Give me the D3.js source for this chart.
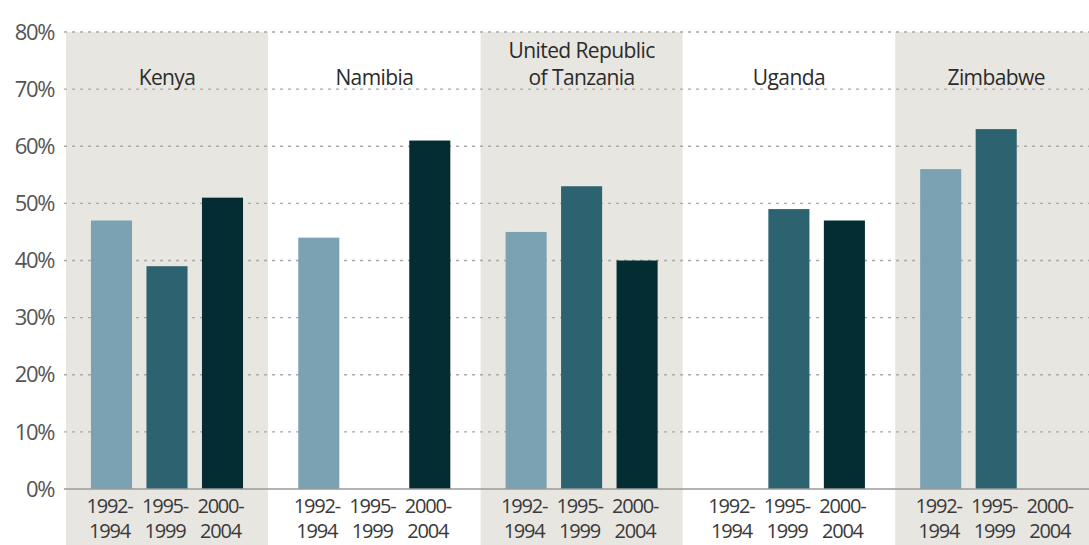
<!DOCTYPE html>
<html>
<head>
<meta charset="utf-8">
<script src="https://cdn.jsdelivr.net/npm/d3@7"></script>
<style>
  body { margin: 0; background: #fff; }
  svg { display: block; font-family: "Open Sans", sans-serif; }
</style>
</head>
<body>
<svg id="chart" width="1089" height="545"></svg>
<script>
// data
const countries = ['Kenya', 'Namibia', 'United Republic|of Tanzania', 'Uganda', 'Zimbabwe'];
const periods = ['1992-|1994', '1995-|1999', '2000-|2004'];
const shaded = [true, false, true, false, true];
const vals1992 = [47, 44, 45, null, 56];
const vals1995 = [39, null, 53, 49, 63];
const vals2000 = [51, 61, 40, 47, null];
const yTicks = [0, 10, 20, 30, 40, 50, 60, 70, 80];

const colors = ['#7ba2b3', '#2d6371', '#042d33'];
const series = [vals1992, vals1995, vals2000];

const W = 1089, H = 545;
const marginLeft = 66, plotTop = 32, base = 489;

const svg = d3.select('#chart');

const x = d3.scaleBand()
  .domain(countries)
  .range([marginLeft, marginLeft + 207.3 * 5])
  .paddingInner(0).paddingOuter(0);

const xi = d3.scaleBand()
  .domain(periods)
  .range([0, 202])
  .paddingInner(0.26).paddingOuter(0.45);

const y = d3.scaleLinear()
  .domain([0, 80])
  .range([base, plotTop]);

// shaded panels
svg.selectAll('.panel')
  .data(countries.filter((c, i) => shaded[i]))
  .enter().append('rect')
  .attr('class', 'panel')
  .attr('x', d => x(d))
  .attr('y', y(80))
  .attr('width', 202)
  .attr('height', H - y(80))
  .attr('fill', '#e8e6e1');

// gridlines
svg.selectAll('.grid')
  .data(yTicks.filter(d => d > 0))
  .enter().append('line')
  .attr('class', 'grid')
  .attr('x1', marginLeft - 2).attr('x2', W)
  .attr('y1', d => y(d)).attr('y2', d => y(d))
  .attr('stroke', '#a9a9a9')
  .attr('stroke-width', 1.3)
  .attr('stroke-dasharray', '3,5');

// y labels
svg.selectAll('.ylab')
  .data(yTicks)
  .enter().append('text')
  .attr('class', 'ylab')
  .attr('x', 54)
  .attr('y', d => y(d))
  .attr('dy', '0.35em')
  .attr('text-anchor', 'end')
  .attr('font-size', 22)
  .attr('fill', '#555')
  .attr('letter-spacing', -1.4)
  .text(d => d + '%');

// bars
const barData = [];
countries.forEach((c, ci) => {
  periods.forEach((p, pi) => {
    const v = series[pi][ci];
    if (v != null) barData.push({ c, p, v, pi });
  });
});

svg.selectAll('.bar')
  .data(barData)
  .enter().append('rect')
  .attr('class', 'bar')
  .attr('x', d => x(d.c) + xi(d.p))
  .attr('y', d => y(d.v))
  .attr('width', xi.bandwidth())
  .attr('height', d => y(0) - y(d.v))
  .attr('fill', d => colors[d.pi]);

// baseline
svg.append('line')
  .attr('x1', marginLeft - 2).attr('x2', W)
  .attr('y1', base).attr('y2', base)
  .attr('stroke', '#9a9a9a')
  .attr('stroke-width', 1.5);

// country labels
const clab = svg.selectAll('.clab')
  .data(countries)
  .enter().append('text')
  .attr('class', 'clab')
  .attr('text-anchor', 'middle')
  .attr('font-size', 21)
  .attr('fill', '#2b2b2b')
  .attr('letter-spacing', -0.6);

clab.each(function(d) {
  const lines = d.split('|');
  const t = d3.select(this);
  const cx = x(d) + 101;
  const y0 = lines.length > 1 ? 58 : 85;
  lines.forEach((l, i) => {
    t.append('tspan').attr('x', cx).attr('y', y0 + i * 27).text(l);
  });
});

// period labels, one text per line
countries.forEach(c => {
  periods.forEach(p => {
    const cx = x(c) + xi(p) + xi.bandwidth() / 2 - 2;
    p.split('|').forEach((l, i) => {
      svg.append('text')
        .attr('class', 'plab')
        .attr('x', cx)
        .attr('y', 513 + i * 25)
        .attr('text-anchor', 'middle')
        .attr('font-size', 20)
        .attr('fill', '#3a3a3a')
        .attr('letter-spacing', -1.2)
        .text(l);
    });
  });
});
</script>
</body>
</html>
